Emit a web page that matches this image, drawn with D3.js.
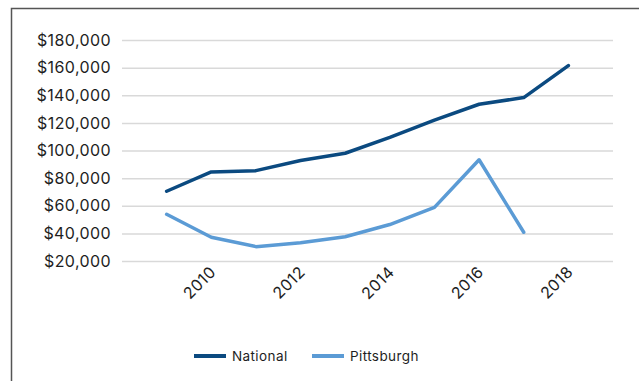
<!DOCTYPE html>
<html>
<head>
<meta charset="utf-8">
<script src="https://cdn.jsdelivr.net/npm/d3@7"></script>
<style>
  html, body { margin: 0; padding: 0; background: #fff; }
  svg { display: block; font-family: Inter, "Open Sans", sans-serif; }
</style>
</head>
<body>
<svg id="chart" width="639" height="381"></svg>
<script>
// Median value by year
const years = [2009, 2010, 2011, 2012, 2013, 2014, 2015, 2016, 2017, 2018];
const national = [70500, 84500, 85400, 92800, 98000, 109500, 122000, 133500, 138300, 161500];
const pittsburgh = [53800, 37200, 30400, 33200, 37600, 46400, 58800, 93300, 40800, null];
const yTicks = [20000, 40000, 60000, 80000, 100000, 120000, 140000, 160000, 180000];
const xTickLabels = [2010, 2012, 2014, 2016, 2018];
const seriesNames = ["National", "Pittsburgh"];
const seriesColors = ["#0b4a80", "#5b9bd5"];

const svg = d3.select("#chart");
const W = 639, H = 381;

// outer frame
svg.append("rect")
  .attr("x", 11.5).attr("y", 8.5)
  .attr("width", W + 10).attr("height", H + 10)
  .attr("fill", "none").attr("stroke", "#555").attr("stroke-width", 1.5);

const plot = { left: 122, right: 613, top: 40, bottom: 261 };

const x = d3.scaleLinear().domain([2008, 2019]).range([plot.left, plot.right]);
const y = d3.scaleLinear().domain([20000, 180000]).range([plot.bottom, plot.top]);

const labelStyle = sel => sel
  .attr("fill", "#1e1e1e")
  .attr("font-family", "Inter, sans-serif")
  .style("font-size", "16px")
  .style("font-weight", "400")
  .style("letter-spacing", "0.4px");

// gridlines + y labels
const fmt = v => "$" + d3.format(",")(v);
const yAxis = d3.axisLeft(y).tickValues(yTicks).tickFormat(fmt)
  .tickSize(-(plot.right - plot.left)).tickPadding(11);
const gy = svg.append("g").attr("transform", `translate(${plot.left},0)`).call(yAxis);
gy.select(".domain").remove();
gy.selectAll(".tick line").attr("stroke", "#d9d9d9").attr("stroke-width", 1.5);
gy.selectAll(".tick text").call(labelStyle);

// x labels, rotated
const xAxis = d3.axisBottom(x).tickValues(xTickLabels).tickFormat(d3.format("d")).tickSize(0);
const gx = svg.append("g").attr("transform", `translate(0,${plot.bottom})`).call(xAxis);
gx.select(".domain").remove();
gx.selectAll(".tick text").call(labelStyle)
  .attr("text-anchor", "end")
  .attr("dy", "0.35em")
  .attr("transform", "translate(-1,6) rotate(-45)");

// lines
const line = d3.line()
  .defined(d => d[1] != null)
  .x(d => x(d[0])).y(d => y(d[1]));
[national, pittsburgh].forEach((vals, i) => {
  svg.append("path")
    .datum(years.map((yr, j) => [yr, vals[j]]))
    .attr("fill", "none")
    .attr("stroke", seriesColors[i])
    .attr("stroke-width", 3.5)
    .attr("stroke-linejoin", "round")
    .attr("stroke-linecap", "round")
    .attr("d", line);
});

// legend
const legendX = [194, 312];
const lg = svg.append("g");
seriesNames.forEach((name, i) => {
  lg.append("line")
    .attr("x1", legendX[i]).attr("x2", legendX[i] + 32)
    .attr("y1", 356).attr("y2", 356)
    .attr("stroke", seriesColors[i]).attr("stroke-width", 4);
  lg.append("text")
    .attr("x", legendX[i] + 38).attr("y", 356).attr("dy", "0.35em")
    .attr("fill", "#1e1e1e")
    .style("font-size", "13.5px").style("font-weight", "400").style("letter-spacing", "0.4px")
    .text(name);
});
</script>
</body>
</html>
